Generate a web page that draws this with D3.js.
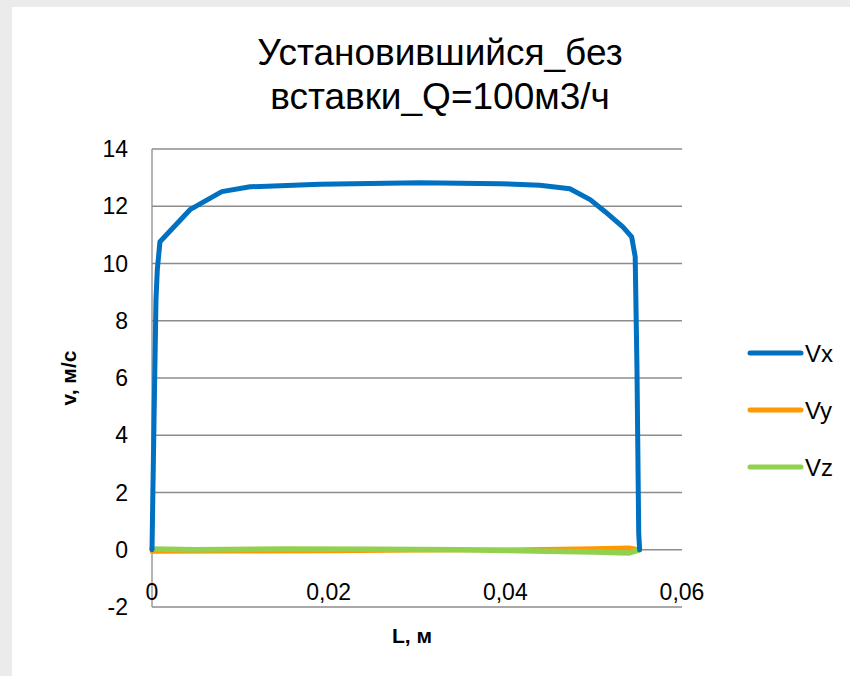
<!DOCTYPE html>
<html>
<head>
<meta charset="utf-8">
<script src="https://cdn.jsdelivr.net/npm/d3@7"></script>
<style>
    body { margin: 0; background: #ebebeb; }
    svg { display: block; font-family: "Liberation Sans", Arial, sans-serif; }
</style>
</head>
<body>
<div class="paint"></div>
<script>
// значения
var titleLines = ["Установившийся_без", "вставки_Q=100м3/ч"];
var xTicks = [0, 0.02, 0.04, 0.06];
var yTicks = [-2, 0, 2, 4, 6, 8, 10, 12, 14];
var vxL = [0, 0.00023, 0.00045, 0.0006, 0.0009, 0.0043, 0.0079, 0.0111, 0.019, 0.0303, 0.0394, 0.0439, 0.0473, 0.0496, 0.0513, 0.0533, 0.0543, 0.0547, 0.0549, 0.0551, 0.0552];
var vx = [0, 4.54, 8.73, 9.78, 10.76, 11.88, 12.51, 12.68, 12.77, 12.82, 12.79, 12.73, 12.61, 12.23, 11.81, 11.28, 10.93, 10.24, 6.39, 0.59, 0];
var vyL = [0, 0.01, 0.02, 0.03, 0.04, 0.05, 0.054, 0.0552];
var vy = [-0.06, -0.05, -0.04, -0.02, 0.0, 0.04, 0.07, 0];
var vzL = [0, 0.005, 0.015, 0.025, 0.035, 0.045, 0.05, 0.054, 0.0552];
var vz = [0.03, 0.0, 0.03, 0.02, 0.0, -0.05, -0.08, -0.11, 0];
var seriesNames = ["Vx", "Vy", "Vz"];
var seriesColors = ["#0070c0", "#ff9900", "#92d050"];

var main;
(function (main) {
    function ini() {
        let svg = d3.select(".paint").append("svg")
            .attr("width", 850).attr("height", 676);
        svg.append("rect").attr("x", 0).attr("y", 0).attr("width", 850).attr("height", 676).attr("fill", "#ebebeb");
        svg.append("rect").attr("x", 12).attr("y", 7).attr("width", 838).attr("height", 669).attr("fill", "#ffffff");

        let x = d3.scaleLinear().domain([0, 0.06]).range([152, 682]);
        let y = d3.scaleLinear().domain([-2, 14]).range([607, 149]);

        // сетка
        svg.selectAll(".grid").data(yTicks).enter().append("line")
            .attr("x1", 152).attr("x2", 682)
            .attr("y1", d => y(d)).attr("y2", d => y(d))
            .attr("stroke", "#8c8c8c").attr("stroke-width", 1.3);
        svg.append("line").attr("x1", 152).attr("x2", 152).attr("y1", y(14)).attr("y2", y(-2))
            .attr("stroke", "#8c8c8c").attr("stroke-width", 1.3);

        svg.selectAll(".ylab").data(yTicks).enter().append("text")
            .attr("x", 128).attr("y", d => y(d) + 8)
            .attr("text-anchor", "end").attr("font-size", 23).attr("fill", "#000")
            .text(d => d);
        svg.selectAll(".xlab").data(xTicks).enter().append("text")
            .attr("x", d => x(d)).attr("y", 600)
            .attr("text-anchor", "middle").attr("font-size", 23).attr("fill", "#000")
            .text(d => d3.format(".2~f")(d).replace(".", ","));

        let line = d3.line().x(d => x(d[0])).y(d => y(d[1]));
        let lists = [[vxL, vx], [vyL, vy], [vzL, vz]];
        let widths = [5, 4.5, 5.5];
        [1, 2, 0].forEach(i => {
            let pts = lists[i][0].map((l, k) => [l, lists[i][1][k]]);
            svg.append("path").datum(pts).attr("d", line)
                .attr("fill", "none").attr("stroke", seriesColors[i])
                .attr("stroke-width", widths[i]).attr("stroke-linejoin", "round").attr("stroke-linecap", "round");
        });

        svg.selectAll(".title").data(titleLines).enter().append("text")
            .attr("x", 440).attr("y", (d, i) => 65 + i * 44)
            .attr("text-anchor", "middle").attr("font-size", 37).attr("fill", "#000")
            .text(d => d);

        svg.append("text").attr("transform", "translate(76,378) rotate(-90)")
            .attr("text-anchor", "middle").attr("font-size", 21).attr("font-weight", "bold")
            .text("v, м/с");
        svg.append("text").attr("x", 412).attr("y", 643)
            .attr("text-anchor", "middle").attr("font-size", 21).attr("font-weight", "bold")
            .text("L, м");

        let leg = svg.selectAll(".leg").data(seriesNames).enter().append("g")
            .attr("transform", (d, i) => "translate(0," + (353 + i * 57) + ")");
        leg.append("line").attr("x1", 750).attr("x2", 801).attr("y1", 0).attr("y2", 0)
            .attr("stroke", (d, i) => seriesColors[i]).attr("stroke-width", 5).attr("stroke-linecap", "round");
        leg.append("text").attr("x", 805).attr("y", 9).attr("font-size", 24).text(d => d);
    }
    main.ini = ini;
})(main || (main = {}));
main.ini();
</script>
</body>
</html>
